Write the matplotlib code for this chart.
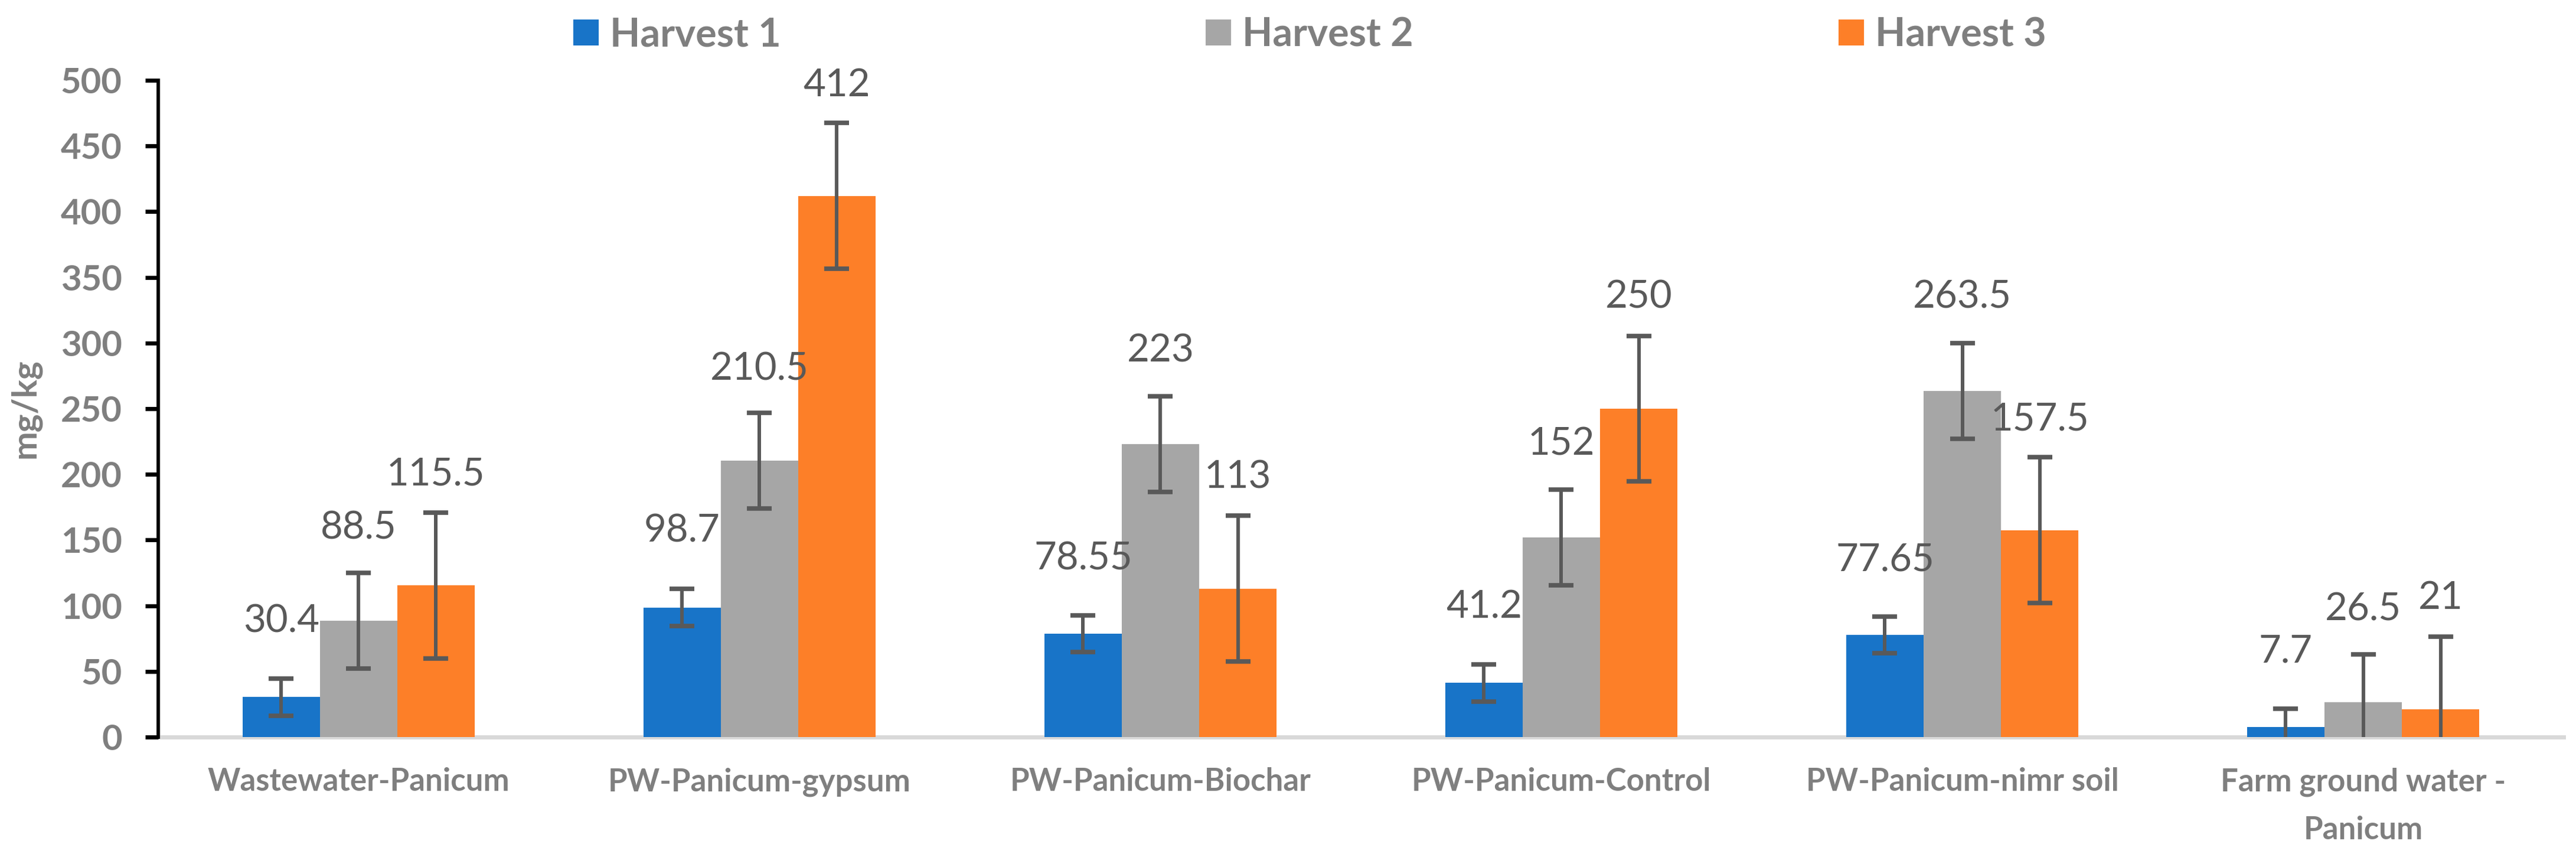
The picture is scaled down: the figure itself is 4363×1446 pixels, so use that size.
import numpy as np
import matplotlib
matplotlib.use("Agg")
import matplotlib.pyplot as plt

plt.rcParams['font.family'] = ['Lato', 'DejaVu Sans']

# data
categories = ["Wastewater-Panicum", "PW-Panicum-gypsum", "PW-Panicum-Biochar",
              "PW-Panicum-Control", "PW-Panicum-nimr soil", "Farm ground water -\nPanicum"]
series = ["Harvest 1", "Harvest 2", "Harvest 3"]
harvest1 = [30.4, 98.7, 78.55, 41.2, 77.65, 7.7]
harvest2 = [88.5, 210.5, 223, 152, 263.5, 26.5]
harvest3 = [115.5, 412, 113, 250, 157.5, 21]
err1 = [14, 14, 14, 14, 14, 14]
err2 = [36.5, 36.5, 36.5, 36.5, 36.5, 36.5]
err3 = [55.5, 55.5, 55.5, 55.5, 55.5, 55.5]

# where the value labels sit (they were moved by hand in the original)
label_y1 = [88, 157, 136, 99, 135, 65]
label_y2 = [159, 280, 294, 223, 335, 97]
label_y3 = [200, 496, 198, 335, 242, 106]

colors = ['#1874C8', '#A6A6A6', '#FD7F28']
text_gray = '#7F7F7F'
label_gray = '#595959'

fig = plt.figure(figsize=(43.63, 14.46), dpi=100)
ax = fig.add_axes([0.0614, 0.1369, 0.9338, 0.7691])

x = np.arange(len(categories))
width = 0.193
values = [harvest1, harvest2, harvest3]
errors = [err1, err2, err3]
label_ys = [label_y1, label_y2, label_y3]

bars = []
for i in range(3):
    pos = x + (i - 1) * width
    b = ax.bar(pos, values[i], width, color=colors[i], label=series[i], zorder=2)
    bars.append(b)
    ax.errorbar(pos, values[i], yerr=errors[i], fmt='none', ecolor='#595959',
                elinewidth=4.3, capsize=15, capthick=5.5, zorder=3)
    for xp, v, ly in zip(pos, values[i], label_ys[i]):
        ax.text(xp, ly, f"{v:g}", ha='center', va='center', fontsize=47,
                color=label_gray, zorder=4)

ax.set_xlim(-0.5, len(categories) - 0.5)
ax.set_ylim(0, 500)
ax.set_yticks(np.arange(0, 501, 50))

for s in ['top', 'right']:
    ax.spines[s].set_visible(False)
ax.spines['left'].set_color('black')
ax.spines['left'].set_linewidth(4.3)
ax.spines['bottom'].set_color('#D9D9D9')
ax.spines['bottom'].set_linewidth(5)
ax.spines['bottom'].set_zorder(1)

ax.tick_params(axis='y', direction='out', length=16, width=5, color='black',
               pad=28, labelsize=43, labelcolor=text_gray)
ax.tick_params(axis='x', length=0, pad=37, labelsize=38, labelcolor=text_gray)
ax.set_xticks(x)
ax.set_xticklabels(categories, fontweight='bold', linespacing=1.8)
for t in ax.get_yticklabels():
    t.set_fontweight('bold')

fig.text(43 / 4363, 0.5214, 'mg/kg', rotation=90, ha='center', va='center',
         fontsize=42, fontweight='bold', color=text_gray)

fig.legend(handles=bars, labels=series, loc='center', bbox_to_anchor=(0.5084, 0.959),
           ncol=3, frameon=False, prop={'weight': 'bold', 'size': 48},
           labelcolor=text_gray, handlelength=0.645, handleheight=0.645,
           handletextpad=0.28, columnspacing=10.8)

fig.savefig('out.png', dpi=100, facecolor='white')
